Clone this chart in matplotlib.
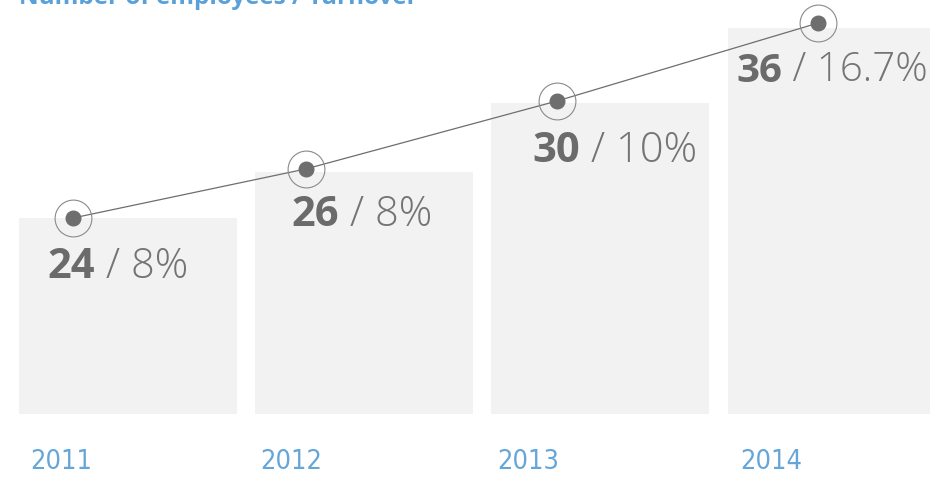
import matplotlib
matplotlib.use("Agg")
import matplotlib.pyplot as plt
from matplotlib import font_manager as fm

# data
years = ["2011", "2012", "2013", "2014"]
employees = [24, 26, 30, 36]
turnover = ["8%", "8%", "10%", "16.7%"]
# bar heights and trend-point heights (px above baseline, as drawn in the original)
bar_height = [196, 242, 311, 386]
trend_height = [196, 245, 313, 391]

# layout tweaks (where the dot / label sit inside each bar)
dot_shift = [-0.233, -0.248, -0.184, -0.078]
label_shift = [-0.343, -0.307, -0.290, -0.425]
label_drop = [60, 54, 59, 54]
label_size = [30, 30, 30, 29]
year_shift = [-0.415, -0.440, -0.435, -0.410]

GREY = "#747474"
BLUE = "#65a6d8"


def pick_narrow():
    # look for a condensed sans for the year labels
    wanted = ["LiberationSansNarrow-Regular", "DejaVuSansCondensed.ttf", "RobotoCondensed-Light",
              "RobotoCondensed-Regular", "OpenSans_Condensed-Light", "OpenSansCondensed-Light"]
    files = [f.fname for f in fm.fontManager.ttflist]
    for w in wanted:
        for f in files:
            if w in f:
                return fm.FontProperties(fname=f, size=19.5)
    for f in files:
        if "Condensed" in f or "Narrow" in f:
            return fm.FontProperties(fname=f, size=19.5)
    return fm.FontProperties(family="DejaVu Sans", stretch="condensed", size=19)


year_font = pick_narrow()

fig = plt.figure(figsize=(9.3, 4.78), dpi=100)
ax = fig.add_axes([0, 0, 1, 1])
ax.set_xlim(-0.542, 3.395)
ax.set_ylim(-64, 414)
ax.axis("off")

x = list(range(len(years)))
ax.bar(x, bar_height, width=0.923, color="#f2f2f2", zorder=1)

# trend line with ringed dots
dx = [i + s for i, s in zip(x, dot_shift)]
ax.plot(dx, trend_height, color="#6e6e6e", lw=0.9, zorder=2)
ax.plot(dx, trend_height, "o", ms=26.5, mfc="none", mec="#8a8a8a", mew=0.8, zorder=3)
ax.plot(dx, trend_height, "o", ms=10.5, color="#6e6e6e", zorder=4)

for i in x:
    lx = i + label_shift[i]
    ly = bar_height[i] - label_drop[i]
    t = ax.text(lx, ly, str(employees[i]), fontsize=label_size[i], fontweight="bold",
                family="Open Sans", color="#6b6b6b", va="baseline", ha="left", zorder=5)
    ax.annotate(" / " + turnover[i], xy=(1, 0), xycoords=t, va="bottom", ha="left",
                fontsize=label_size[i], fontweight="light", family="Open Sans",
                color=GREY, zorder=5)
    ax.text(i + year_shift[i], -55, years[i], fontproperties=year_font,
            color=BLUE, va="baseline", ha="left")

# title, mostly cropped off the top edge in the original
fig.text(19 / 930, 1 - 4 / 478, "Number of employees / Turnover", fontsize=17.5,
         fontweight="bold", family="Open Sans", color="#5aa1d9", va="baseline", ha="left")

fig.savefig("out.png", dpi=100)
